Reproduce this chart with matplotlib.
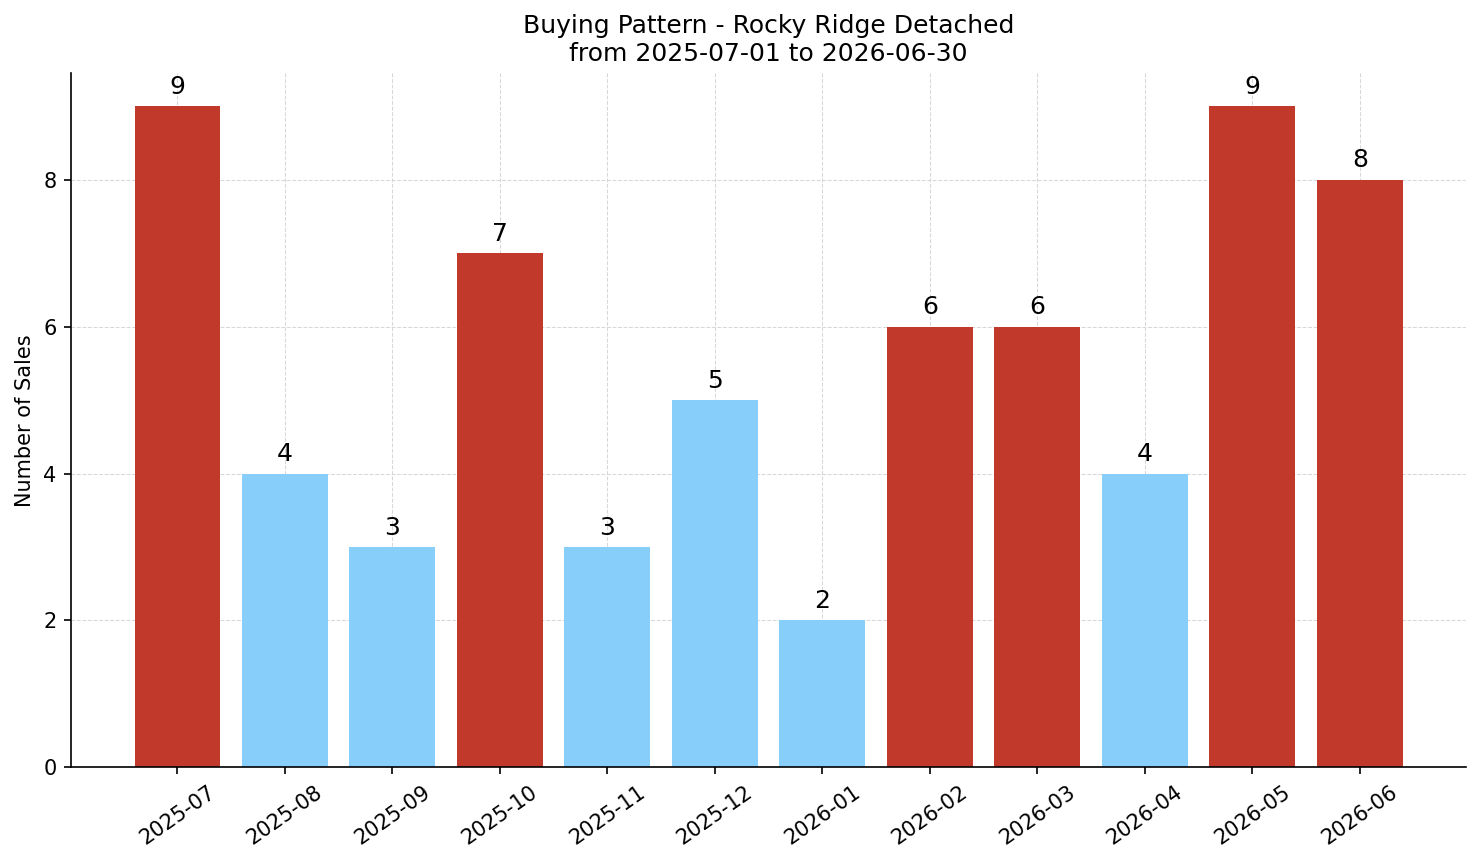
import matplotlib
matplotlib.use("Agg")
import matplotlib.pyplot as plt

# 月份和销售数量
months = ["2025-07", "2025-08", "2025-09", "2025-10", "2025-11", "2025-12",
          "2026-01", "2026-02", "2026-03", "2026-04", "2026-05", "2026-06"]
sales = [9, 4, 3, 7, 3, 5, 2, 6, 6, 4, 9, 8]

avg = sum(sales) / len(sales)
colors = ["#c0392b" if v > avg else "#87cefa" for v in sales]

fig, ax = plt.subplots(figsize=(1481 / 150, 863 / 150), dpi=150)
fig.subplots_adjust(left=0.048, right=0.99, top=0.915, bottom=0.111)

ax.bar(months, sales, color=colors, width=0.8)
for i, v in enumerate(sales):
    ax.text(i, v + 0.1, str(v), ha="center", va="bottom", fontsize=12)

ax.set_title("Buying Pattern - Rocky Ridge Detached\nfrom 2025-07-01 to 2026-06-30", fontsize=12)
ax.set_ylabel("Number of Sales")

ax.grid(True, linestyle="--", linewidth=0.5, color="#d3d3d3", alpha=0.9)
ax.set_axisbelow(True)
ax.spines["top"].set_visible(False)
ax.spines["right"].set_visible(False)

plt.setp(ax.get_xticklabels(), rotation=35)

fig.savefig("out.png", dpi=150)
